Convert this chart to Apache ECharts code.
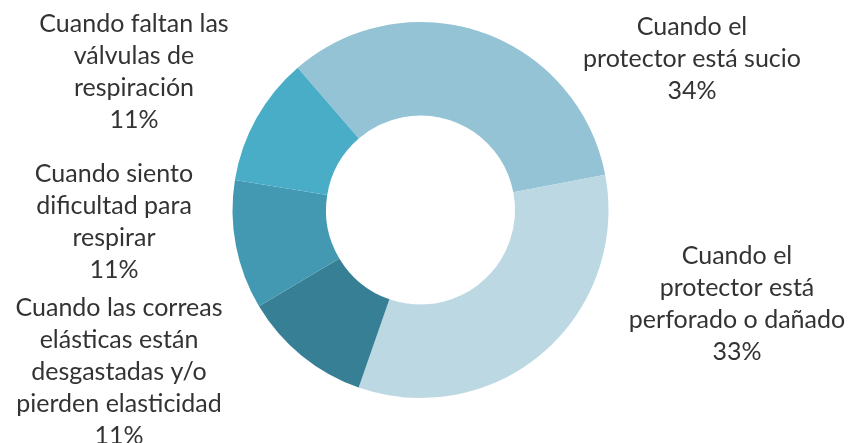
<!DOCTYPE html>
<html>
<head>
<meta charset="utf-8">
<script src="https://cdn.jsdelivr.net/npm/echarts@6/dist/echarts.min.js"></script>
<style>
html,body{margin:0;padding:0;background:#fff;}
#chart{width:849px;height:443px;}
</style>
</head>
<body>
<div id="chart"></div>
<script>
// Data
var categories = [
  'Cuando el\nprotector está sucio',
  'Cuando el\nprotector está\nperforado o dañado',
  'Cuando las correas\nelásticas están\ndesgastadas y/o\npierden elasticidad',
  'Cuando siento\ndificultad para\nrespirar',
  'Cuando faltan las\nválvulas de\nrespiración'
];
var values = [3, 3, 1, 1, 1];

// Styling (not data)
var colors = ['#93c3d5', '#bcd8e3', '#377f94', '#4299b1', '#4aadc7'];
var labelPos = [
  [692, 59],
  [737, 304],
  [119, 372],
  [114, 222],
  [134, 72]
];

var chart = echarts.init(document.getElementById('chart'), null, {renderer: 'canvas'});
chart.setOption({
  animation: false,
  backgroundColor: '#ffffff',
  series: [{
    type: 'pie',
    center: [420.5, 210],
    radius: [94.5, 188],
    startAngle: 130.8,
    clockwise: true,
    avoidLabelOverlap: false,
    percentPrecision: 0,
    data: categories.map(function (c, i) {
      return { name: c, value: values[i], itemStyle: { color: colors[i] } };
    }),
    itemStyle: { borderWidth: 0 },
    label: {
      show: true,
      position: 'outside',
      formatter: '{b}\n{d}%',
      fontFamily: 'Lato, "Liberation Sans", sans-serif',
      fontSize: 25,
      lineHeight: 32,
      color: '#333333',
      align: 'center'
    },
    labelLine: { show: false },
    labelLayout: function (params) {
      var p = labelPos[params.dataIndex];
      return { x: p[0], y: p[1], align: 'center', verticalAlign: 'middle' };
    },
    emphasis: { disabled: true }
  }]
});
</script>
</body>
</html>
